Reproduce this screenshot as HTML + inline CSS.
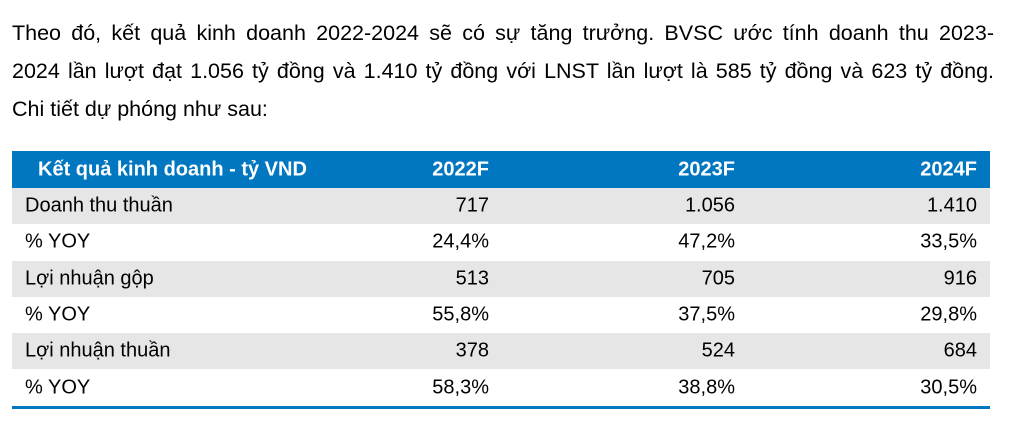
<!DOCTYPE html>
<html><head><meta charset="utf-8"><style>
body{margin:0;width:1021px;height:432px;background:#fff;font-family:"Liberation Sans",Arial,sans-serif;color:#000;overflow:hidden;position:relative}
.pl{position:absolute;left:12px;width:982px;margin:0;font-size:21.5px;white-space:nowrap;line-height:26px}
.j{text-align:justify;text-align-last:justify;white-space:normal;height:26px;overflow:hidden}
.tbl{position:absolute;left:12px;top:151px;width:978px}
.row{position:relative;height:36.3px;font-size:20px}
.row span{position:absolute;top:50%;transform:translateY(-50%);white-space:nowrap}
.hdr{background:#0077c0;color:#fff;font-weight:bold;height:37px}
.g{background:#e6e6e6}
.lab{left:13px}.hdr .lab{left:26px}
.c1{right:501px}.c2{right:255px}.c3{right:13px}
.line{height:3px;background:#0077c0}
</style></head><body>
<div>
<div class="pl j" style="top:20px">Theo đó, kết quả kinh doanh 2022-2024 sẽ có sự tăng trưởng. BVSC ước tính doanh thu 2023-</div>
<div class="pl j" style="top:58px">2024 lần lượt đạt 1.056 tỷ đồng và 1.410 tỷ đồng với LNST lần lượt là 585 tỷ đồng và 623 tỷ đồng.</div>
<div class="pl" style="top:96px">Chi tiết dự phóng như sau:</div>
</div>
<div class="tbl">
<div class="row hdr"><span class="lab">Kết quả kinh doanh - tỷ VND</span><span class="c1">2022F</span><span class="c2">2023F</span><span class="c3">2024F</span></div>
<div class="row g"><span class="lab">Doanh thu thuần</span><span class="c1">717</span><span class="c2">1.056</span><span class="c3">1.410</span></div>
<div class="row"><span class="lab">% YOY</span><span class="c1">24,4%</span><span class="c2">47,2%</span><span class="c3">33,5%</span></div>
<div class="row g"><span class="lab">Lợi nhuận gộp</span><span class="c1">513</span><span class="c2">705</span><span class="c3">916</span></div>
<div class="row"><span class="lab">% YOY</span><span class="c1">55,8%</span><span class="c2">37,5%</span><span class="c3">29,8%</span></div>
<div class="row g"><span class="lab">Lợi nhuận thuần</span><span class="c1">378</span><span class="c2">524</span><span class="c3">684</span></div>
<div class="row"><span class="lab">% YOY</span><span class="c1">58,3%</span><span class="c2">38,8%</span><span class="c3">30,5%</span></div>
<div class="line"></div>
</div>
</body></html>
